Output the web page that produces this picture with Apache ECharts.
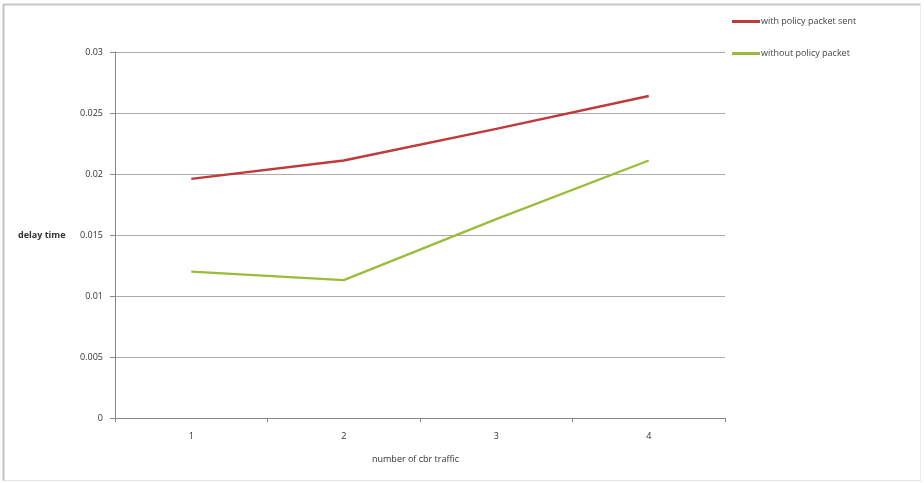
<!DOCTYPE html>
<html><head><meta charset="utf-8">
<script src="https://cdn.jsdelivr.net/npm/echarts@6/dist/echarts.min.js"></script>
<style>html,body{margin:0;padding:0;background:#fff}#c{width:924px;height:483px}</style>
</head><body><div id="c"></div>
<script>
const categories = ['1', '2', '3', '4'];
const withPolicy = [0.0196, 0.0211, 0.0237, 0.0264];
const withoutPolicy = [0.0120, 0.0113, 0.0163, 0.0211];
const yTicks = [0, 0.005, 0.01, 0.015, 0.02, 0.025, 0.03];

const chart = echarts.init(document.getElementById('c'));
const font = 'Open Sans';
chart.setOption({
  animation: false,
  backgroundColor: '#fff',
  graphic: [
    {type: 'line', shape: {x1: 3.5, y1: 4, x2: 3.5, y2: 481}, style: {stroke: '#c4c4c4', lineWidth: 2}, silent: true},
    {type: 'line', shape: {x1: 3, y1: 4.5, x2: 921, y2: 4.5}, style: {stroke: '#c8c8c8', lineWidth: 2}, silent: true},
    {type: 'line', shape: {x1: 920.5, y1: 4, x2: 920.5, y2: 481}, style: {stroke: '#ececec', lineWidth: 1}, silent: true},
    {type: 'line', shape: {x1: 3, y1: 480.5, x2: 921, y2: 480.5}, style: {stroke: '#e4e4e4', lineWidth: 1}, silent: true},
    {type: 'text', left: 18, top: 231, style: {text: 'delay time', fontFamily: font, fontSize: 9, fontWeight: 'bold', fill: '#333'}},
    {type: 'text', left: 372, top: 455, style: {text: 'number of cbr traffic', fontFamily: font, fontSize: 9, fill: '#333'}}],
  grid: {left: 115, right: 199, top: 52, bottom: 65, containLabel: false},
  legend: {
    orient: 'vertical', left: 727, top: 12, itemGap: 23, itemWidth: 28, itemHeight: 3,
    icon: 'rect',
    textStyle: {fontFamily: font, fontSize: 9, color: '#444', padding: [0, 0, 0, -4]},
    data: ['with policy packet sent', 'without policy packet']
  },
  xAxis: {
    type: 'category', data: categories, boundaryGap: true,
    axisLine: {lineStyle: {color: '#888', width: 1}},
    axisTick: {show: true, length: 4, lineStyle: {color: '#888'}},
    axisLabel: {fontFamily: font, fontSize: 9, color: '#333', margin: 14}
  },
  yAxis: {
    type: 'value', min: 0, max: 0.03, interval: 0.005,
    axisLine: {show: true, lineStyle: {color: '#888'}},
    axisTick: {show: true, length: 5, lineStyle: {color: '#888'}},
    axisLabel: {fontFamily: font, fontSize: 9, color: '#333', margin: 12,
      formatter: v => { const t = yTicks.find(x => Math.abs(x - v) < 1e-9); return String(t !== undefined ? t : v); }},
    splitLine: {lineStyle: {color: '#aaa', width: 1}}
  },
  series: [
    {name: 'with policy packet sent', type: 'line', data: withPolicy, symbol: 'none',
      lineStyle: {color: '#C0393B', width: 2.5}, itemStyle: {color: '#C0393B'}},
    {name: 'without policy packet', type: 'line', data: withoutPolicy, symbol: 'none',
      lineStyle: {color: '#9BBB3A', width: 2.2}, itemStyle: {color: '#9BBB3A'}}
  ]
});
</script></body></html>
